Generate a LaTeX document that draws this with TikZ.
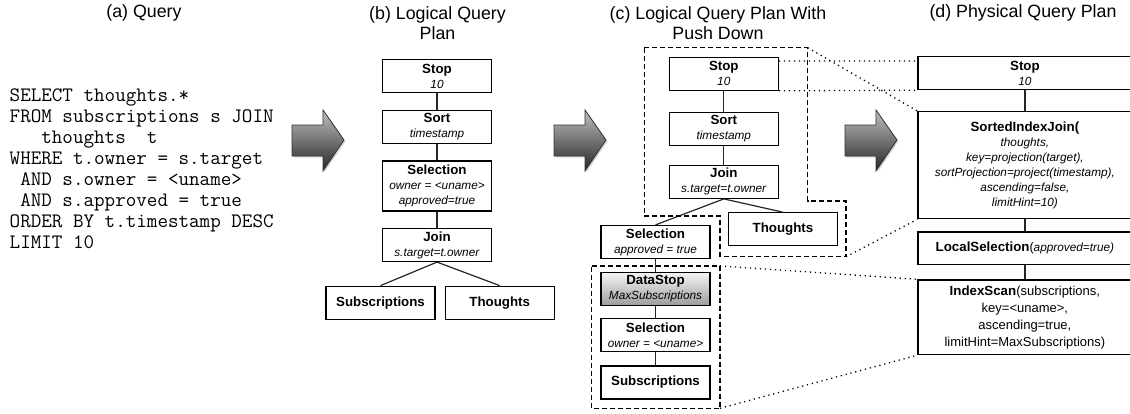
\documentclass[tikz,border=0pt]{standalone}
\usepackage{fontspec}
\setmainfont{Liberation Sans}
\usetikzlibrary{positioning,shadows,calc}
\newcommand{\opname}[1]{{\fontsize{13.3}{15}\selectfont\bfseries #1}}
\newcommand{\oparg}[1]{\textit{#1}}
\tikzset{
    opbox/.style={
        draw=black,
        fill=white,
        rectangle,
        line width=1.2pt,
        align=center,
        minimum width=109pt,
        minimum height=33pt,
        inner sep=1pt,
        font=\fontsize{11.8}{15}\selectfont
    },
    physbox/.style={
        opbox,
        minimum width=214pt
    },
    stopbox/.style={
        opbox,
        top color=black!4,
        bottom color=black!38
    },
    link/.style={
        line width=1.2pt,
        draw=black!85
    },
    region/.style={
        line width=1.2pt,
        dash pattern=on 5pt off 3pt
    },
    zoomline/.style={
        line width=1.3pt,
        dash pattern=on 1.2pt off 3.8pt
    },
    bigarrow/.style={
        draw=black!80,
        line width=0.8pt,
        top color=black!25,
        bottom color=black!85,
        drop shadow={opacity=0.3, shadow xshift=1.5pt, shadow yshift=-1.5pt}
    },
    title/.style={
        font=\fontsize{17.8}{20}\selectfont,
        align=center
    },
    query/.style={
        font=\ttfamily\fontsize{20.5}{21}\selectfont,
        align=left,
        inner sep=0pt,
        anchor=north west
    }
}
\begin{document}
\begin{tikzpicture}[x=1pt, y=-1pt]
    \useasboundingbox (0,0) rectangle (1130,413);

    % titles
    \node[title] (ttl1) at (144,13) {(a) Query};
    \node[title] (ttl2) at (437.5,23.3) {(b) Logical Query\\Plan};
    \node[title] (ttl3) at (718,23.3) {(c) Logical Query Plan With\\Push Down};
    \node[title] (ttl4) at (1023,13) {(d) Physical Query Plan};

    % (a) query
    \node[query] (sql) at (9.5,88.5) {SELECT thoughts.*\\
        FROM subscriptions s JOIN\\
        \phantom{XXX}thoughts\phantom{XX}t\\
        WHERE t.owner = s.target\\
        \phantom{X}AND s.owner = <uname>\\
        \phantom{X}AND s.approved = true\\
        ORDER BY t.timestamp DESC\\
        LIMIT 10};

    % block arrows
    \foreach \ax in {292,554,845}
        \path[bigarrow] (\ax,125) -- ++(31,0) -- ++(0,-15) -- ++(21,30)
            -- ++(-21,31) -- ++(0,-15) -- ++(-31,0) -- cycle;

    % (b) logical plan
    \node[opbox] (stop1) at (437,76.3) {\opname{Stop}\\\oparg{10}};
    \node[opbox, below=16.5pt of stop1] (sort1) {\opname{Sort}\\\oparg{timestamp}};
    \node[opbox, below=16.3pt of sort1, minimum height=50pt] (sel1)
        {\opname{Selection}\\\oparg{owner = <uname>}\\\oparg{approved=true}};
    \node[opbox, below=16.3pt of sel1] (join1) {\opname{Join}\\\oparg{s.target=t.owner}};
    \node[opbox] (subs1) at (380.5,302.7) {\opname{Subscriptions}};
    \node[opbox] (thoughts1) at (499.7,302.7) {\opname{Thoughts}};

    \draw[link] (stop1) -- (sort1);
    \draw[link] (sort1) -- (sel1);
    \draw[link] (sel1) -- (join1);
    \draw[link] (join1.south) -- (subs1.north);
    \draw[link] (join1.south) -- (thoughts1.north);

    % (c) logical plan with push down
    \node[opbox] (stop2) at (723.8,73.7) {\opname{Stop}\\\oparg{10}};
    \node[opbox, below=20.7pt of stop2] (sort2) {\opname{Sort}\\\oparg{timestamp}};
    \node[opbox, below=19pt of sort2] (join2) {\opname{Join}\\\oparg{s.target=t.owner}};
    \node[opbox] (sel2) at (655.5,242) {\opname{Selection}\\\oparg{approved = true}};
    \node[opbox] (thoughts2) at (783,229.3) {\opname{Thoughts}};
    \node[stopbox, below=12.4pt of sel2] (dstop2) {\opname{DataStop}\\\oparg{MaxSubscriptions}};
    \node[opbox, below=12pt of dstop2] (selb2) {\opname{Selection}\\\oparg{owner = <uname>}};
    \node[opbox, below=13.4pt of selb2] (subs2) {\opname{Subscriptions}};

    \draw[link] (stop2) -- (sort2);
    \draw[link] (sort2) -- (join2);
    \draw[link] (join2.south) -- (sel2.north);
    \draw[link] (join2.south) -- (thoughts2.north);
    \draw[link] (sel2) -- (dstop2);
    \draw[link] (dstop2) -- (selb2);
    \draw[link] (selb2) -- (subs2);

    % pushed down regions
    \coordinate (upNE) at (807.7,47.7);
    \coordinate (upSE) at (846,256.7);
    \coordinate (lowNE) at (720,266);
    \coordinate (lowSE) at (720,408.3);
    \draw[region] (644.3,47.7) -- (upNE) -- (807.7,201) -- (846,201) -- (upSE)
        -- (720,256.7) -- (720,216) -- (644.3,216) -- cycle;
    \draw[region] (591.5,266) -- (lowNE) -- (lowSE) -- (591.5,408.3) -- cycle;

    % (d) physical plan
    \node[physbox, anchor=north west] (stop3) at (917.3,56) {\opname{Stop}\\\oparg{10}};
    \node[physbox, below=20.7pt of stop3, minimum height=107.3pt] (join3)
        {\opname{SortedIndexJoin(}\\\oparg{thoughts,}\\\oparg{key=projection(target),}\\
         \oparg{sortProjection=project(timestamp),}\\\oparg{ascending=false,}\\\oparg{limitHint=10)}};
    \node[physbox, below=12pt of join3, minimum height=32.7pt] (lsel3)
        {\opname{LocalSelection}{\fontsize{12.5}{15}\selectfont(}\oparg{approved=true)}};
    \node[physbox, below=14pt of lsel3, minimum height=74.7pt, font=\fontsize{13}{17}\selectfont] (scan3)
        {\opname{IndexScan}(subscriptions,\\key=<uname>,\\ascending=true,\\limitHint=MaxSubscriptions)};

    \draw[link] (stop3) -- (join3);
    \draw[link] (join3) -- (lsel3);
    \draw[link] (lsel3) -- (scan3);

    % zoom lines
    \draw[zoomline] ([yshift=-4.3pt]stop2.north east) -- ([yshift=-5pt]stop3.north west);
    \draw[zoomline] (stop2.south east) -- (stop3.south west);
    \draw[zoomline] (upNE) -- (join3.north west);
    \draw[zoomline] (upSE) -- (join3.south west);
    \draw[zoomline] (lowNE) -- (scan3.north west);
    \draw[zoomline] (lowSE) -- (scan3.south west);
\end{tikzpicture}
\end{document}
